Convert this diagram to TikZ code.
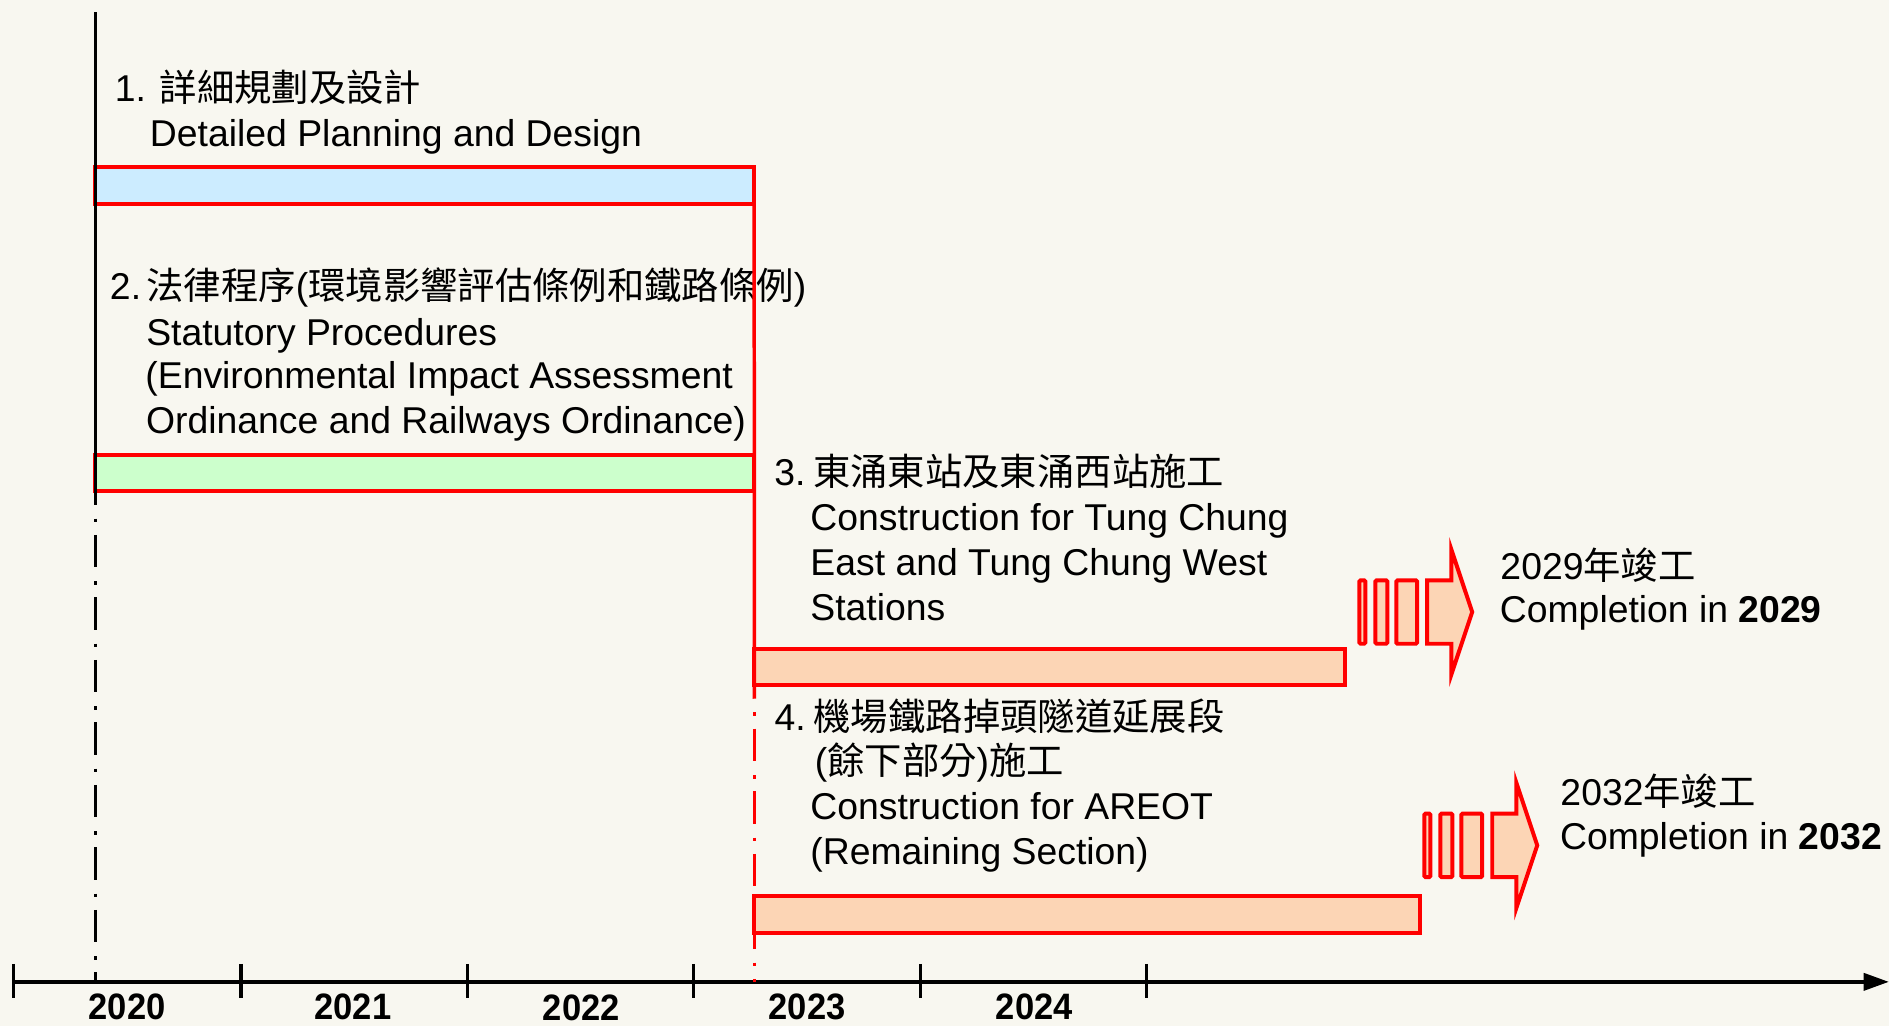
\documentclass[tikz,border=0pt]{standalone}
\usepackage{fontspec}
\usepackage{graphicx}
\setmainfont{Liberation Sans}
\newfontfamily\cjk{Noto Sans CJK TC}
\usetikzlibrary{arrows.meta}
\definecolor{bgcol}{RGB}{248,247,240}
\definecolor{bluefill}{RGB}{204,236,255}
\definecolor{greenfill}{RGB}{204,255,204}
\definecolor{peachfill}{RGB}{252,213,181}
\definecolor{redline}{RGB}{255,0,0}
\newcommand{\yr}[1]{\scalebox{0.94}[1]{#1}}
\begin{document}
\begin{tikzpicture}[x=1pt,y=-1pt,
  bar/.style={draw=redline, line width=3.2pt, inner sep=0pt, outer sep=0pt, anchor=north west},
  txt/.style={anchor=base west, inner sep=0pt, outer sep=0pt, font=\fontsize{31}{37}\selectfont},
  yearlbl/.style={anchor=base, inner sep=0pt, outer sep=0pt, font=\bfseries\fontsize{30.5}{30.5}\selectfont},
  dashdot/.style={dash pattern=on 27pt off 11.4pt on 3pt off 10.5pt, dash phase=27pt},
  arrowline/.style={draw=redline, fill=peachfill, line width=3.3pt},
  striparrow/.pic={
    \draw[arrowline, rounded corners=1pt] (1.65,1.65) rectangle (6.65,54.35);
    \draw[arrowline, rounded corners=1pt] (14.95,1.65) rectangle (24.85,54.35);
    \draw[arrowline, rounded corners=1pt] (32.35,1.65) rectangle (49.55,54.35);
    \draw[arrowline, line join=miter, miter limit=20] (57.95,1.65) -- (77.95,1.65) -- (77.95,-24) -- (95.3,28) -- (77.95,80) -- (77.95,54.35) -- (57.95,54.35) -- cycle;
  }]
\useasboundingbox (0,0) rectangle (1568,851.7);
\fill[bgcol] (0,0) rectangle (1568,851.7);

% bars
\node[bar, fill=bluefill, minimum width=546.8pt, minimum height=30.7pt] (bar1) at (79.2,138.6) {};
\node[bar, fill=greenfill, minimum width=546.8pt, minimum height=30.4pt] (bar2) at (79.2,377.4) {};
\node[bar, fill=peachfill, minimum width=490.4pt, minimum height=30.5pt] (bar3) at (626.2,538.4) {};
\node[bar, fill=peachfill, minimum width=552.7pt, minimum height=30.4pt] (bar4) at (626.2,743.8) {};

% black time line
\coordinate (blackTop) at (79.2,10);
\coordinate (blackMid) at (79.2,419);
\coordinate (blackBot) at (79.2,815);
\draw[line width=2.9pt] (blackTop) -- (blackMid);
\draw[line width=2.9pt, dashdot] (blackMid) -- (blackBot);

% axis
\coordinate (axL) at (10,815);
\coordinate (axR) at (1568,815);
\draw[line width=3.3pt, -{Triangle[length=21pt,width=14pt]}] (axL) -- (axR);
\foreach \x in {11,200,388,576,764,952} \draw[line width=2.6pt] (\x,800) -- (\x,828);

\node[yearlbl] (y2020) at (105.5,846) {\yr{2020}};
\node[yearlbl] (y2021) at (293,846) {\yr{2021}};
\node[yearlbl] (y2022) at (482.5,847) {\yr{2022}};
\node[yearlbl] (y2023) at (670,846) {\yr{2023}};
\node[yearlbl] (y2024) at (858.5,846) {\yr{2024}};

% texts
\node[txt] (t1a) at (95.3,84.4) {1. {\cjk 詳細規劃及設計}};
\node[txt] (t1b) at (124.5,121.8) {Detailed Planning and Design};

\node[txt] (t2a) at (91.3,248.5) {2.\hspace{4.5pt}{\cjk 法律程序}({\cjk 環境影響評估條例和鐵路條例})};
\node[txt] (t2b) at (121.4,286.4) {Statutory Procedures};
\node[txt] (t2c) at (120.7,322.6) {(Environmental Impact Assessment};
\node[txt] (t2d) at (121.3,359.8) {Ordinance and Railways Ordinance)};

\node[txt] (t3a) at (642.7,402.6) {3.\hspace{6.5pt}{\cjk 東涌東站及東涌西站施工}};
\node[txt] (t3b) at (672.7,440.5) {Construction for Tung Chung};
\node[txt] (t3c) at (672.7,478) {East and Tung Chung West};
\node[txt] (t3d) at (672.7,515.2) {Stations};

\node[txt] (t4a) at (643,606) {4.\hspace{6.5pt}{\cjk 機場鐵路掉頭隧道延展段}};
\node[txt] (t4b) at (676.4,643) {({\cjk 餘下部分}){\cjk 施工}};
\node[txt] (t4c) at (672.7,680) {Construction for AREOT};
\node[txt] (t4d) at (672.7,717.5) {(Remaining Section)};

\node[txt] (c29a) at (1245.5,481) {2029{\cjk 年竣工}};
\node[txt] (c29b) at (1245,516.5) {Completion in \textbf{2029}};
\node[txt] (c32a) at (1295.3,669) {2032{\cjk 年竣工}};
\node[txt] (c32b) at (1295,705.5) {Completion in \textbf{2032}};

% red milestone line
\coordinate (redMid) at (626.2,580);
\coordinate (redBot) at (626.2,815);
\draw[redline, line width=2.9pt] (bar1.north east) -- (redMid);
\draw[redline, line width=2.9pt, dashdot] (redMid) -- (redBot);

% striped arrows
\pic at (1126.7,480) {striparrow};
\pic at (1180.7,673.7) {striparrow};
\end{tikzpicture}
\end{document}
